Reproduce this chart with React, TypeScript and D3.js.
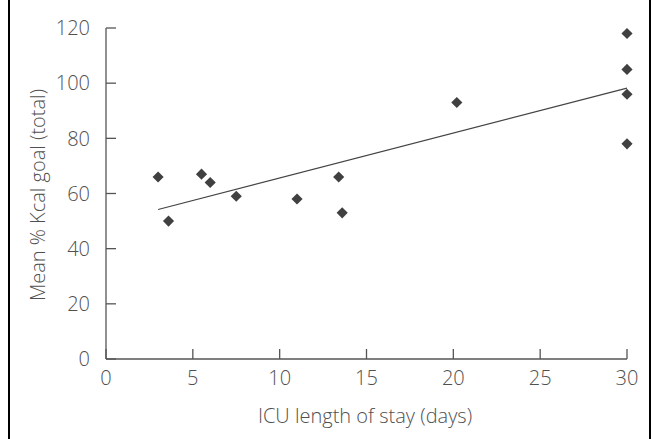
import React from 'react';
import * as d3 from 'd3';

// ICU length of stay (days) vs mean % Kcal goal
const stayDays = [3, 3.6, 5.5, 6, 7.5, 11, 13.4, 13.6, 20.2, 30, 30, 30, 30];
const kcalGoal = [66, 50, 67, 64, 59, 58, 66, 53, 93, 118, 105, 96, 78];
const xTicks = [0, 5, 10, 15, 20, 25, 30];
const yTicks = [0, 20, 40, 60, 80, 100, 120];

const W = 653;
const H = 439;
const textColor = '#505050';
const font = '"Open Sans", Lato, sans-serif';

const App = () => {
  const x = d3.scaleLinear().domain([0, 30]).range([106, 627]);
  const y = d3.scaleLinear().domain([0, 120]).range([359, 28]);

  // least squares trend line
  const mx = d3.mean(stayDays) as number;
  const my = d3.mean(kcalGoal) as number;
  const sxy = d3.sum(stayDays, (d, i) => (d - mx) * (kcalGoal[i] - my));
  const sxx = d3.sum(stayDays, d => (d - mx) * (d - mx));
  const slope = sxy / sxx;
  const icpt = my - slope * mx;
  const [x0, x1] = d3.extent(stayDays) as [number, number];
  const trend = d3.line<number>().x(d => x(d)).y(d => y(icpt + slope * d))([x0, x1]);

  const diamond = d3.symbol().type(d3.symbolSquare).size(62)();

  return (
    <svg width={W} height={H} style={{ position: 'absolute', left: 0, top: 0, background: '#fff' }}>
      <line x1={9} x2={9} y1={0} y2={H} stroke="#000" strokeWidth={2} />
      <line x1={650} x2={650} y1={0} y2={H} stroke="#000" strokeWidth={2} />

      {/* axes */}
      <g stroke="#555" strokeWidth={1.3} fill="none">
        <line x1={x(0)} x2={x(0)} y1={y(120)} y2={y(0)} />
        <line x1={x(0)} x2={x(30)} y1={y(0)} y2={y(0)} />
        {yTicks.map(t => (
          <line key={'yt' + t} x1={x(0)} x2={x(0) + 10} y1={y(t)} y2={y(t)} />
        ))}
        {xTicks.map(t => (
          <line key={'xt' + t} x1={x(t)} x2={x(t)} y1={y(0)} y2={y(0) - 10} />
        ))}
      </g>

      <g fill={textColor} fontFamily={font} fontSize={20} fontWeight={300}>
        {yTicks.map(t => (
          <text key={'yl' + t} x={x(0) - 16} y={y(t)} dy="0.36em" textAnchor="end">{t}</text>
        ))}
        {xTicks.map(t => (
          <text key={'xl' + t} x={x(t)} y={385} textAnchor="middle">{t}</text>
        ))}
        <text x={365} y={423} textAnchor="middle">ICU length of stay (days)</text>
        <text transform={`translate(45,195) rotate(-90)`} textAnchor="middle">Mean % Kcal goal (total)</text>
      </g>

      <path d={trend ?? ''} stroke="#444" strokeWidth={1.2} fill="none" />

      {stayDays.map((d, i) => (
        <path
          key={i}
          d={diamond ?? ''}
          transform={`translate(${x(d)},${y(kcalGoal[i])}) rotate(45)`}
          fill="#404040"
        />
      ))}
    </svg>
  );
};

export default App;
